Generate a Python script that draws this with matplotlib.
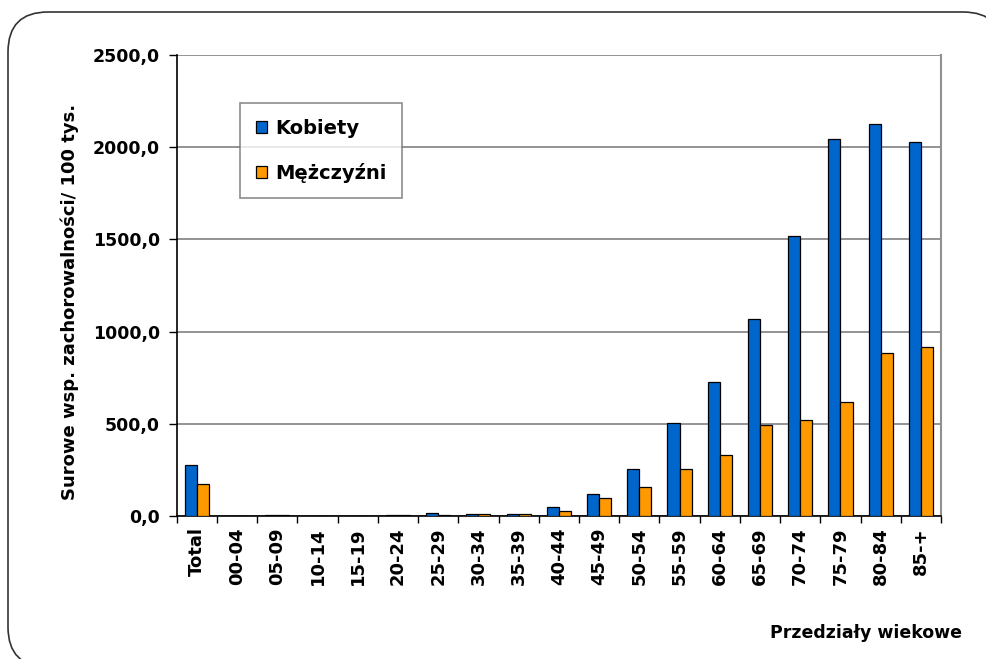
import numpy as np
import matplotlib.pyplot as plt
from matplotlib.patches import FancyBboxPatch

# data
categories = ['Total', '00-04', '05-09', '10-14', '15-19', '20-24', '25-29',
              '30-34', '35-39', '40-44', '45-49', '50-54', '55-59', '60-64',
              '65-69', '70-74', '75-79', '80-84', '85-+']
kobiety = [277, 0, 4, 0, 0, 5, 14, 12, 12, 50, 119, 257, 506, 728,
           1070, 1518, 2045, 2127, 2027]
mezczyzni = [174, 0, 3, 0, 0, 4, 5, 12, 12, 27, 96, 155, 257, 332,
             492, 521, 620, 886, 916]
yticks = [0, 500, 1000, 1500, 2000, 2500]

blue = '#0066CC'
orange = '#FF9900'
font = 'DejaVu Sans'

fig = plt.figure(figsize=(9.86, 6.59), dpi=100)

# rounded frame around the whole chart (pixel coordinates)
bg = fig.add_axes([0, 0, 1, 1])
bg.set_xlim(0, 986)
bg.set_ylim(659, 0)
bg.axis('off')
frame = FancyBboxPatch((8, 12), 995, 655, boxstyle='round,pad=0,rounding_size=40',
                       facecolor='white', edgecolor='#333333', linewidth=1.2)
bg.add_patch(frame)

ax = fig.add_axes([176.7 / 986, 1 - 516 / 659, (941 - 176.7) / 986, (516 - 55) / 659])
ax.set_facecolor('none')

x = np.arange(len(categories))
w = 0.3
ax.bar(x - w / 2, kobiety, w, color=blue, edgecolor='black', linewidth=0.9,
       label='Kobiety', zorder=3)
ax.bar(x + w / 2, mezczyzni, w, color=orange, edgecolor='black', linewidth=0.9,
       label='Mężczyźni', zorder=3)

ax.set_xlim(-0.5, len(categories) - 0.5)
ax.set_ylim(0, 2500)
ax.set_yticks(yticks)
ax.set_yticklabels([f'{v:.1f}'.replace('.', ',') for v in yticks],
                   fontsize=12.5, fontweight='bold', family=font)
ax.yaxis.grid(True, color='#808080', linewidth=1.2, zorder=0)

# x ticks between categories, labels centred under bars
ax.set_xticks(np.arange(len(categories) + 1) - 0.5)
ax.set_xticklabels([])
ax.set_xticks(x, minor=True)
ax.set_xticklabels(categories, minor=True, rotation=90, fontsize=13,
                   fontweight='bold', family=font, va='top', ha='center')
ax.tick_params(axis='x', which='minor', length=0, pad=8)
ax.tick_params(axis='x', which='major', length=5, width=1, direction='out')
ax.tick_params(axis='y', length=6, width=1, direction='out', pad=6)

for side in ['left', 'bottom']:
    ax.spines[side].set_color('black')
    ax.spines[side].set_linewidth(1.2)
ax.spines['right'].set_color('#909090')
ax.spines['right'].set_linewidth(1.5)
ax.spines['top'].set_visible(False)

fig.text(70 / 986, 1 - 302 / 659, 'Surowe wsp. zachorowalności/ 100 tys.',
         rotation=90, ha='center', va='center', fontsize=13,
         fontweight='bold', family=font)
fig.text(962 / 986, 1 - 633 / 659, 'Przedziały wiekowe', ha='right',
         va='center', fontsize=12.5, fontweight='bold', family=font)

leg = ax.legend(loc='upper left', bbox_to_anchor=(240 / 986, 1 - 103 / 659),
                bbox_transform=fig.transFigure, prop={'family': font,
                'weight': 'bold', 'size': 14}, frameon=True, fancybox=False,
                edgecolor='#707070', handlelength=0.6, handleheight=0.6,
                handletextpad=0.4, labelspacing=1.3, borderpad=0.8,
                borderaxespad=0)
leg.get_frame().set_linewidth(1.2)
leg.set_zorder(5)

fig.savefig('out.png', dpi=100)
